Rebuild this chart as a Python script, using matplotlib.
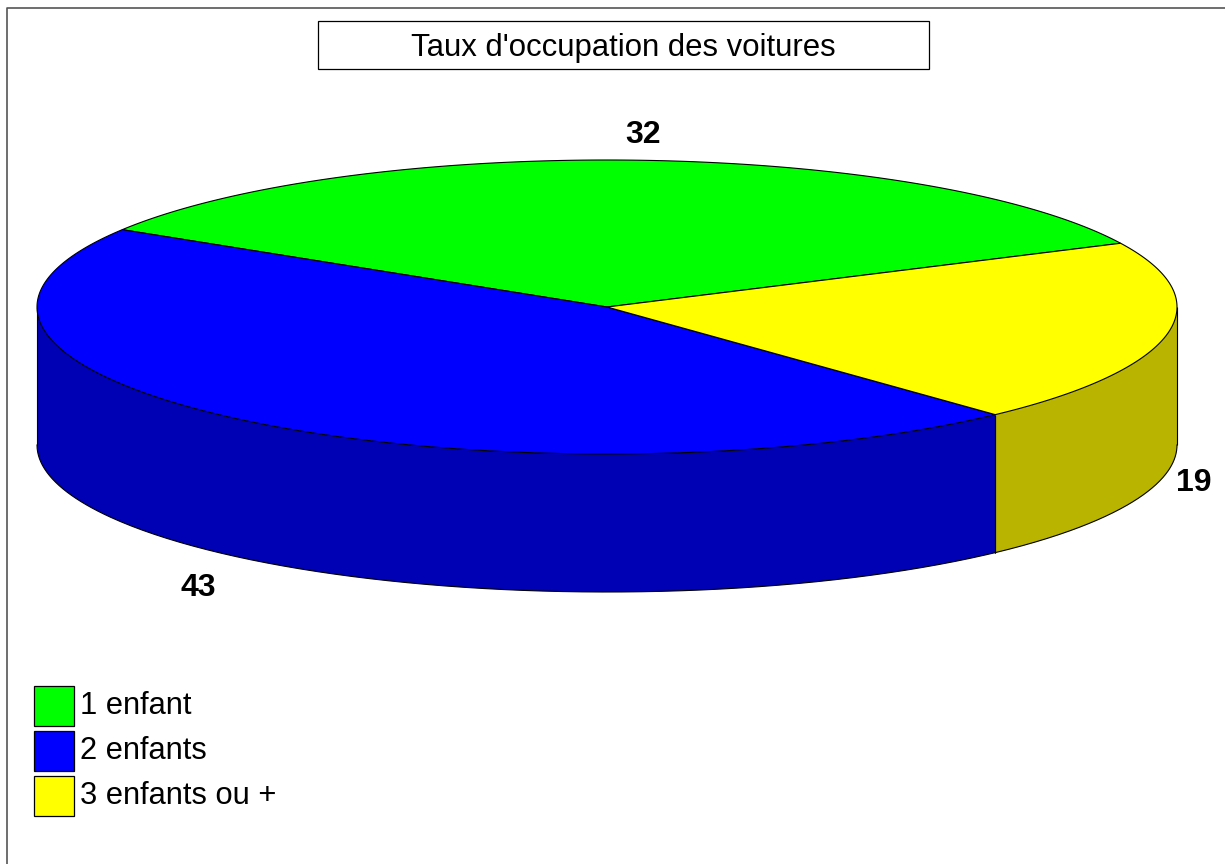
import numpy as np
import matplotlib
matplotlib.use("Agg")
import matplotlib.pyplot as plt
from matplotlib.patches import Rectangle

plt.rcParams['font.family'] = ['Liberation Sans', 'DejaVu Sans']

title = "Taux d'occupation des voitures"
categories = ["1 enfant", "2 enfants", "3 enfants ou +"]
values = [32, 43, 19]
top_colors = ["#00ff00", "#0000ff", "#ffff00"]
side_colors = ["#00b800", "#0000b4", "#b8b400"]

# geometry of the pie in image pixels
cx, cy = 607, 307
rx, ry = 570, 147
depth = 138
start_deg = 25.7


def rim(t0, t1, n=200):
    t = np.radians(np.linspace(t0, t1, n))
    return cx + rx * np.cos(t), cy - ry * np.sin(t)


fig = plt.figure(figsize=(12.25, 8.64), dpi=100)
ax = fig.add_axes([0, 0, 1, 1])
ax.set_xlim(0, 1225)
ax.set_ylim(864, 0)
ax.axis("off")

# page frame, only left and top show
ax.plot([7, 7, 1225], [864, 8, 8], color="#555555", lw=1.2)

# title box
ax.add_patch(Rectangle((317.5, 21), 611, 48, fc="white", ec="black", lw=0.9))
ax.text(623, 48, title, ha="center", va="center", fontsize=22.4)

# slices go counter clockwise from the right
angles = np.array(values) / sum(values) * 360
starts = start_deg + np.concatenate([[0], np.cumsum(angles)[:-1]])

# side walls, only the front half (180 to 360 and 540 to 720) is visible
for start, ang, col in zip(starts, angles, side_colors):
    for lo, hi in [(180, 360), (540, 720)]:
        t0 = max(start, lo)
        t1 = min(start + ang, hi)
        if t1 <= t0:
            continue
        x, y = rim(t0, t1)
        ax.fill(np.r_[x, x[::-1]], np.r_[y, y[::-1] + depth], fc=col, ec="none", zorder=2)
        ax.plot(x, y + depth, color="black", lw=0.8, zorder=3)
        ax.plot([x[0], x[0]], [y[0], y[0] + depth], color="black", lw=0.8,
                solid_capstyle="butt", zorder=3)
        ax.plot([x[-1], x[-1]], [y[-1], y[-1] + depth], color="black", lw=0.8,
                solid_capstyle="butt", zorder=3)

# top faces
for start, ang, col in zip(starts, angles, top_colors):
    x, y = rim(start, start + ang)
    ax.fill(np.r_[cx, x], np.r_[cy, y], fc=col, ec="black", lw=0.8, joinstyle="round", zorder=4)

# value labels
ax.text(643, 135, str(values[0]), ha="center", va="center", fontsize=23, fontweight="bold")
ax.text(198, 588, str(values[1]), ha="center", va="center", fontsize=23, fontweight="bold")
ax.text(1194, 483, str(values[2]), ha="center", va="center", fontsize=23, fontweight="bold")

# legend
for i, (cat, col) in enumerate(zip(categories, top_colors)):
    top = 686 + 45 * i
    ax.add_patch(Rectangle((34, top), 39.5, 40, fc=col, ec="black", lw=0.9))
    ax.text(80, top + 20, cat, ha="left", va="center", fontsize=22.2)

fig.savefig("out.png", dpi=100)
